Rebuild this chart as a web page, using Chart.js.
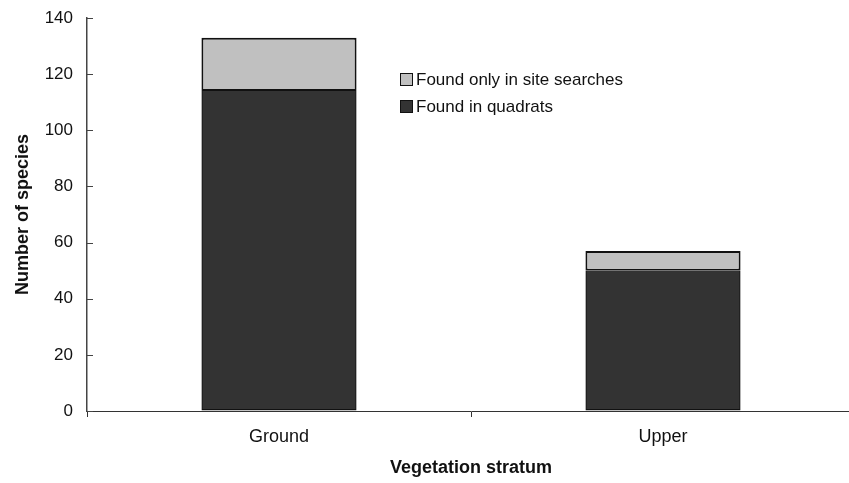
<!DOCTYPE html>
<html>
<head>
<meta charset="utf-8">
<script src="https://cdn.jsdelivr.net/npm/chart.js@4.4.1/dist/chart.umd.min.js"></script>
<style>
  html, body { margin: 0; padding: 0; background: #fff; overflow: hidden; }
  #wrap { position: relative; width: 856px; height: 483px; }
</style>
</head>
<body>
<div id="wrap"><canvas id="c"></canvas></div>
<script>
const categories = ['Ground', 'Upper'];
const foundInQuadrats = [114, 50];
const foundOnlyInSiteSearches = [19, 7];
const seriesLabels = ['Found in quadrats', 'Found only in site searches'];
const axisTitles = { x: 'Vegetation stratum', y: 'Number of species' };

const FONT = "'Liberation Sans', Arial, Helvetica, sans-serif";

const innerYTicks = {
  id: 'innerYTicks',
  afterDatasetsDraw(chart) {
    const y = chart.scales.y;
    const ctx = chart.ctx;
    ctx.save();
    ctx.strokeStyle = '#444';
    ctx.lineWidth = 1;
    y.ticks.forEach(t => {
      const py = Math.round(y.getPixelForValue(t.value)) + 0.5;
      ctx.beginPath();
      ctx.moveTo(y.right, py);
      ctx.lineTo(y.right + 6, py);
      ctx.stroke();
    });
    ctx.restore();
  }
};

const customLegend = {
  id: 'customLegend',
  afterDraw(chart) {
    const ctx = chart.ctx;
    const ds = chart.data.datasets.slice().reverse();
    ctx.save();
    ctx.font = '17px ' + FONT;
    ctx.textBaseline = 'middle';
    ctx.textAlign = 'left';
    ds.forEach((d, i) => {
      const cy = 80 + i * 27;
      ctx.fillStyle = d.backgroundColor;
      ctx.fillRect(400.5, cy - 6.5, 12, 12);
      ctx.strokeStyle = '#111';
      ctx.lineWidth = 1;
      ctx.strokeRect(400.5, cy - 6.5, 12, 12);
      ctx.fillStyle = '#111';
      ctx.fillText(d.label, 416, cy);
    });
    ctx.restore();
  }
};

new Chart(document.getElementById('c'), {
  type: 'bar',
  data: {
    labels: categories,
    datasets: [
      {
        label: seriesLabels[0],
        data: foundInQuadrats,
        backgroundColor: '#333333',
        borderColor: '#111111',
        borderWidth: 1.5,
        borderSkipped: 'end',
        categoryPercentage: 1,
        barPercentage: 0.404
      },
      {
        label: seriesLabels[1],
        data: foundOnlyInSiteSearches,
        backgroundColor: '#c0c0c0',
        borderColor: '#111111',
        borderWidth: 2,
        borderSkipped: false,
        categoryPercentage: 1,
        barPercentage: 0.404
      }
    ]
  },
  options: {
    responsive: true,
    maintainAspectRatio: false,
    animation: false,
    devicePixelRatio: 1,
    layout: { padding: { top: 18, right: 1, left: 0, bottom: 0 } },
    plugins: {
      legend: { display: false },
      tooltip: { enabled: false }
    },
    scales: {
      x: {
        stacked: true,
        afterFit(scale) { scale.height = 72; scale.paddingLeft = 0; scale.paddingRight = 0; },
        grid: {
          display: true,
          offset: true,
          drawOnChartArea: false,
          drawTicks: true,
          tickLength: 6,
          color: '#333',
          lineWidth: 1
        },
        border: { display: true, color: '#333', width: 1 },
        ticks: {
          color: '#111',
          padding: 9,
          font: { family: FONT, size: 18 }
        },
        title: {
          display: true,
          text: axisTitles.x,
          color: '#111',
          font: { family: FONT, size: 18, weight: 'bold' },
          padding: { top: 0, bottom: 4 }
        }
      },
      y: {
        stacked: true,
        min: 0,
        max: 140,
        afterFit(scale) { scale.width = 87; scale.paddingTop = 0; scale.paddingBottom = 0; },
        ticks: {
          stepSize: 20,
          color: '#111',
          padding: 14,
          font: { family: FONT, size: 17 }
        },
        grid: {
          display: true,
          drawOnChartArea: false,
          drawTicks: false,
          color: '#444'
        },
        border: { display: true, color: '#444', width: 1.5 },
        title: {
          display: true,
          text: axisTitles.y,
          color: '#111',
          font: { family: FONT, size: 18, weight: 'bold' },
          padding: { top: 12, bottom: 0 }
        }
      }
    }
  },
  plugins: [innerYTicks, customLegend]
});
</script>
</body>
</html>
